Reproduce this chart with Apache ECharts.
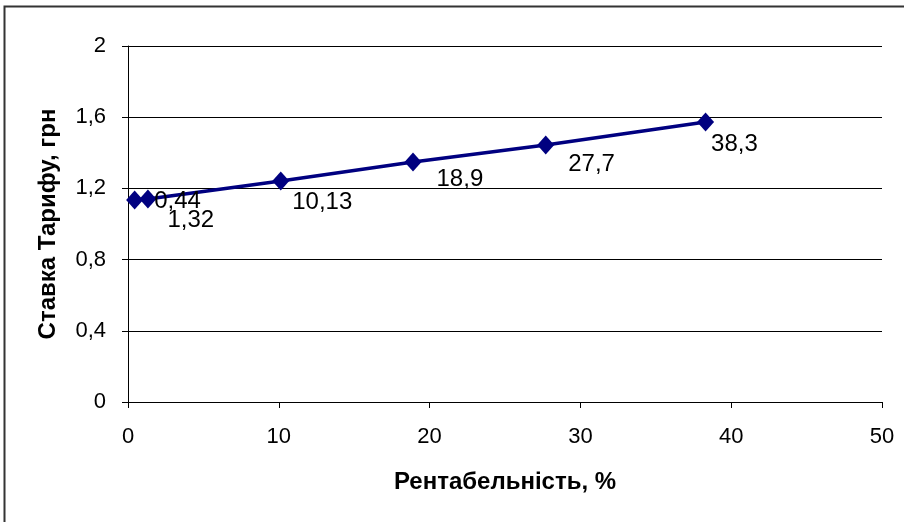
<!DOCTYPE html>
<html>
<head>
<meta charset="utf-8">
<script src="https://cdn.jsdelivr.net/npm/echarts@6/dist/echarts.min.js"></script>
<style>
  html, body { margin: 0; padding: 0; background: #fff; }
  #chart { width: 904px; height: 522px; }
</style>
</head>
<body>
<div id="chart"></div>
<script>
// Profitability (%) and the resulting tariff rate (UAH)
const profitability = [0.44, 1.32, 10.13, 18.9, 27.7, 38.3];
const tariffRate = [1.135, 1.14, 1.242, 1.348, 1.444, 1.573];
const pointLabels = ['0,44', '1,32', '10,13', '18,9', '27,7', '38,3'];

const xTitle = 'Рентабельність, %';
const yTitle = 'Ставка Тарифу, грн';

// label placement around each marker
const labelOffsets = [[6, 1], [6, 21], [-2, 21], [10, 17], [9, 19], [-8, 22]];

const fmt = v => String(Math.round(v * 10) / 10).replace('.', ',');
const font = "'Liberation Sans', Arial, sans-serif";

const chart = echarts.init(document.getElementById('chart'), null, { renderer: 'canvas' });

chart.setOption({
  animation: false,
  backgroundColor: '#fff',
  grid: { left: 128, top: 46, width: 754, height: 356, containLabel: false },
  graphic: [
    {
      type: 'polyline',
      shape: { points: [[4.5, 530], [4.5, 6.5], [910, 6.5]] },
      style: { stroke: '#333', lineWidth: 2, fill: null },
      silent: true
    }
  ],
  xAxis: {
    type: 'value',
    min: 0, max: 50, interval: 10,
    name: xTitle,
    nameLocation: 'middle',
    nameGap: 68,
    nameTextStyle: { fontFamily: font, fontSize: 24, fontWeight: 'bold', color: '#000' },
    axisLine: { show: true, lineStyle: { color: '#000', width: 1 } },
    axisTick: { show: true, length: 6, lineStyle: { color: '#000' } },
    axisLabel: { fontFamily: font, fontSize: 22, color: '#000', margin: 24 },
    splitLine: { show: false }
  },
  yAxis: {
    type: 'value',
    min: 0, max: 2, interval: 0.4,
    name: yTitle,
    nameLocation: 'middle',
    nameGap: 68,
    nameTextStyle: { fontFamily: font, fontSize: 24, fontWeight: 'bold', color: '#000' },
    axisLine: { show: true, lineStyle: { color: '#000', width: 1 } },
    axisTick: { show: true, length: 6, lineStyle: { color: '#000' } },
    axisLabel: { fontFamily: font, fontSize: 22, color: '#000', margin: 22, formatter: fmt },
    splitLine: { show: true, lineStyle: { color: '#000', width: 1 } }
  },
  series: [
    {
      type: 'line',
      data: profitability.map((x, i) => ({
        value: [x, tariffRate[i]],
        label: {
          show: true,
          position: 'right',
          distance: 5,
          offset: labelOffsets[i],
          formatter: () => pointLabels[i]
        }
      })),
      symbol: 'diamond',
      symbolSize: [17, 19],
      lineStyle: { color: '#000080', width: 3.5 },
      itemStyle: { color: '#000080' },
      label: { fontFamily: font, fontSize: 24, color: '#000' },
      z: 3
    }
  ]
});
</script>
</body>
</html>
